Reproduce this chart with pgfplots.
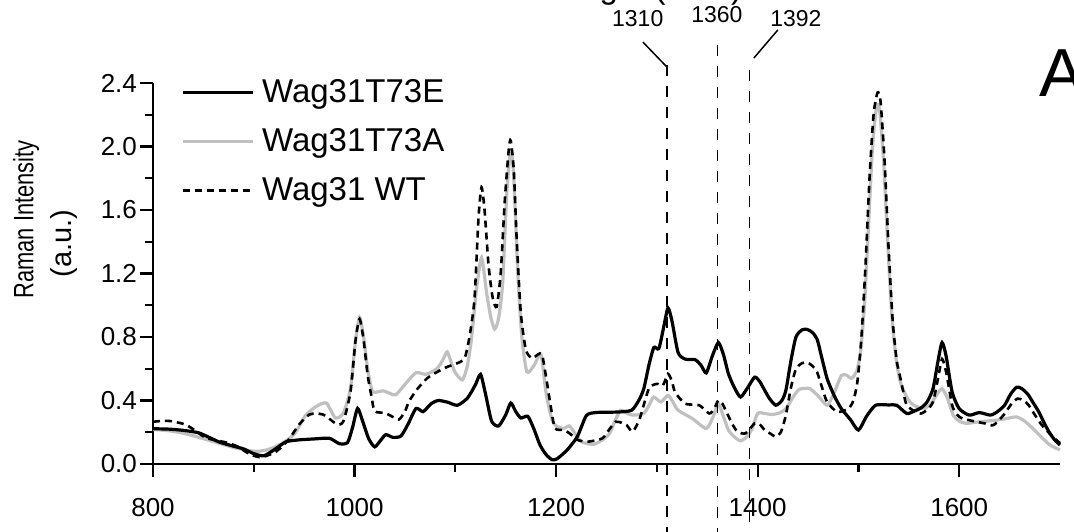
\documentclass[border=0pt]{standalone}
\usepackage{fontspec}
\setmainfont{Liberation Sans}
\usepackage{graphicx}
\usepackage{pgfplots}
\pgfplotsset{compat=1.18}
\definecolor{lgray}{RGB}{192,192,192}

% Raman spectra, values
\pgfplotstableread{
x y
800 0.222
815 0.220
830 0.212
845 0.197
855 0.170
866 0.138
880 0.112
890 0.095
900 0.065
910 0.052
921 0.093
932 0.140
945 0.152
960 0.158
975 0.162
985 0.128
993 0.135
998 0.230
1003 0.350
1008 0.270
1014 0.160
1020 0.108
1026 0.150
1031 0.185
1038 0.168
1046 0.176
1053 0.250
1061 0.350
1068 0.330
1076 0.380
1083 0.400
1092 0.390
1102 0.370
1112 0.415
1120 0.500
1125 0.565
1130 0.440
1136 0.270
1143 0.240
1150 0.310
1155 0.384
1160 0.330
1165 0.290
1172 0.300
1178 0.220
1184 0.120
1190 0.060
1196 0.027
1201 0.033
1211 0.089
1221 0.172
1230 0.305
1239 0.324
1250 0.326
1263 0.328
1275 0.339
1282 0.400
1287 0.474
1292 0.620
1297 0.734
1302 0.728
1307 0.870
1311 0.983
1315 0.900
1321 0.703
1328 0.661
1338 0.657
1344 0.620
1349 0.574
1355 0.680
1361 0.765
1366 0.690
1371 0.568
1377 0.480
1383 0.422
1390 0.480
1397 0.547
1402 0.520
1407 0.464
1412 0.410
1418 0.370
1424 0.400
1428 0.464
1433 0.650
1438 0.800
1444 0.845
1449 0.848
1454 0.830
1459 0.786
1464 0.660
1469 0.536
1476 0.430
1483 0.349
1492 0.280
1500 0.214
1508 0.300
1517 0.370
1530 0.372
1538 0.370
1548 0.318
1556 0.335
1562 0.353
1568 0.390
1574 0.474
1579 0.650
1583 0.765
1587 0.680
1593 0.453
1600 0.349
1610 0.308
1620 0.324
1631 0.308
1638 0.330
1645 0.370
1651 0.440
1657 0.484
1662 0.475
1668 0.440
1674 0.380
1679 0.328
1685 0.250
1690 0.193
1695 0.150
1700 0.120
}\tE

\pgfplotstableread{
x y
800 0.218
815 0.210
828 0.197
840 0.178
852 0.156
866 0.130
880 0.104
897 0.083
905 0.080
914 0.091
927 0.125
940 0.187
947 0.260
952 0.311
962 0.363
972 0.384
981 0.290
989 0.322
996 0.477
1001 0.780
1005 0.924
1009 0.800
1013 0.600
1018 0.457
1028 0.461
1035 0.445
1041 0.436
1051 0.509
1061 0.575
1071 0.565
1082 0.602
1088 0.660
1092 0.706
1097 0.620
1100 0.575
1107 0.530
1112 0.620
1116 0.789
1121 1.100
1126 1.300
1131 1.080
1135 0.930
1139 0.850
1143 0.920
1147 1.142
1151 1.700
1155 1.978
1158 1.800
1162 1.200
1166 0.800
1171 0.581
1178 0.620
1185 0.687
1190 0.450
1195 0.300
1199 0.245
1207 0.224
1213 0.240
1218 0.200
1225 0.141
1238 0.125
1252 0.183
1259 0.280
1264 0.339
1270 0.320
1276 0.308
1287 0.318
1293 0.380
1297 0.422
1304 0.391
1311 0.432
1316 0.390
1321 0.339
1335 0.287
1349 0.224
1356 0.300
1361 0.380
1366 0.300
1371 0.214
1377 0.170
1383 0.146
1389 0.170
1394 0.214
1400 0.318
1407 0.318
1414 0.312
1421 0.320
1428 0.349
1435 0.420
1441 0.470
1447 0.476
1452 0.474
1460 0.430
1469 0.370
1476 0.450
1483 0.557
1488 0.560
1493 0.540
1498 0.580
1502 0.700
1506 1.000
1510 1.500
1514 2.000
1518 2.250
1521 2.230
1525 1.900
1529 1.400
1533 0.950
1537 0.680
1541 0.530
1545 0.460
1550 0.400
1555 0.370
1565 0.349
1572 0.380
1578 0.440
1583 0.474
1588 0.420
1594 0.308
1600 0.270
1607 0.256
1620 0.266
1638 0.277
1650 0.290
1657 0.297
1665 0.270
1673 0.224
1680 0.180
1690 0.120
1700 0.089
}\tA

\pgfplotstableread{
x y
800 0.266
810 0.272
818 0.270
832 0.249
842 0.210
852 0.166
862 0.150
873 0.135
884 0.110
893 0.073
900 0.052
907 0.042
914 0.055
921 0.073
928 0.110
935 0.156
945 0.249
955 0.311
962 0.318
969 0.311
976 0.280
983 0.249
989 0.270
996 0.457
1001 0.780
1005 0.913
1009 0.780
1013 0.560
1017 0.420
1020 0.332
1030 0.322
1037 0.300
1044 0.280
1050 0.330
1054 0.394
1062 0.470
1072 0.540
1082 0.580
1092 0.612
1100 0.630
1109 0.664
1114 0.800
1119 1.038
1123 1.550
1126 1.743
1129 1.600
1133 1.250
1137 1.050
1141 0.991
1145 1.200
1149 1.650
1153 1.980
1155 2.037
1158 1.850
1161 1.400
1165 0.950
1170 0.720
1176 0.666
1182 0.690
1186 0.690
1190 0.550
1195 0.350
1199 0.224
1208 0.214
1214 0.190
1221 0.152
1232 0.141
1246 0.162
1253 0.220
1259 0.266
1265 0.260
1270 0.245
1276 0.204
1283 0.287
1292 0.474
1300 0.505
1306 0.495
1311 0.568
1315 0.520
1318 0.453
1328 0.380
1342 0.370
1352 0.318
1357 0.350
1361 0.401
1365 0.380
1369 0.328
1375 0.250
1380 0.204
1388 0.193
1397 0.256
1402 0.250
1407 0.214
1413 0.190
1418 0.172
1423 0.200
1428 0.308
1433 0.480
1438 0.599
1444 0.635
1449 0.640
1454 0.620
1459 0.578
1464 0.480
1469 0.390
1479 0.328
1490 0.349
1495 0.400
1499 0.520
1503 0.800
1507 1.250
1511 1.800
1515 2.200
1519 2.340
1522 2.280
1526 1.900
1530 1.350
1534 0.900
1538 0.650
1541 0.560
1545 0.440
1548 0.370
1556 0.330
1562 0.318
1568 0.340
1574 0.391
1579 0.540
1583 0.661
1587 0.580
1593 0.370
1598 0.310
1603 0.287
1617 0.266
1626 0.255
1634 0.245
1644 0.308
1652 0.380
1658 0.412
1664 0.400
1669 0.370
1676 0.300
1682 0.245
1690 0.190
1700 0.131
}\tWT

\begin{document}
\begin{tikzpicture}
\begin{axis}[
  name=ax,
  width=453.5pt, height=190.5pt, scale only axis,
  xmin=800, xmax=1700, ymin=0, ymax=2.4,
  axis x line=bottom, axis y line=left,
  axis line style={-, line width=1.2pt},
  xtick={800,1000,1200,1400,1600}, minor x tick num=1,
  ytick={0,0.4,0.8,1.2,1.6,2.0,2.4}, minor y tick num=1,
  tick align=outside, major tick length=6.5pt, minor tick length=4pt,
  tick style={black, line width=1.1pt},
  tick label style={font=\fontsize{13}{13}\selectfont, /pgf/number format/assume math mode=true},
  xticklabel style={/pgf/number format/1000 sep={}, yshift=-7pt},
  yticklabel style={/pgf/number format/fixed, /pgf/number format/fixed zerofill, /pgf/number format/precision=1, xshift=2pt},
  clip=false,
  legend style={at={(axis cs:827.3,2.425)}, anchor=north west, draw=none, fill=none,
    font=\fontsize{16.5}{16.5}\selectfont, row sep=11.5pt, column sep=4pt,
    inner sep=0pt, nodes={inner sep=0pt}},
  legend cell align=left,
  legend image code/.code={\draw[#1] (0pt,0pt) -- (35pt,0pt);},
]
\addlegendimage{black, line width=1.6pt}
\addlegendentry{Wag31T73E}
\addlegendimage{lgray, line width=1.6pt}
\addlegendentry{Wag31T73A}
\addlegendimage{black, line width=1.3pt, dash pattern=on 3.5pt off 2.5pt}
\addlegendentry{Wag31 WT}

\addplot[lgray, line width=1.6pt, smooth, tension=0.4, forget plot] table {\tA};
\addplot[black, line width=1.3pt, dash pattern=on 3.5pt off 2.5pt, smooth, tension=0.4, forget plot] table {\tWT};
\addplot[black, line width=1.6pt, smooth, tension=0.4, forget plot] table {\tE};

% marker lines
\draw[black, line width=0.75pt, dash pattern=on 5.5pt off 5pt] (axis cs:1310,2.513) -- (axis cs:1310,-0.45);
\draw[black, line width=0.75pt, dash pattern=on 5.5pt off 5pt] (axis cs:1360,2.64) -- (axis cs:1360,-0.45);
\draw[black, line width=0.75pt, dash pattern=on 5.5pt off 5pt] (axis cs:1392,2.48) -- (axis cs:1392,-0.45);
\draw[black, line width=0.75pt] (axis cs:1286.1,2.658) -- (axis cs:1309.9,2.501);
\draw[black, line width=0.75pt] (axis cs:1420,2.734) -- (axis cs:1396.2,2.557);
\node[font=\fontsize{11.5}{11.5}\selectfont, inner sep=0pt] at (axis cs:1281,2.803) {1310};
\node[font=\fontsize{11.5}{11.5}\selectfont, inner sep=0pt] at (axis cs:1359.5,2.828) {1360};
\node[font=\fontsize{11.5}{11.5}\selectfont, inner sep=0pt] at (axis cs:1437.9,2.803) {1392};
\node[font=\fontsize{16.5}{16.5}\selectfont, anchor=base west, inner sep=0pt] at (axis cs:1116.5,2.932) {Wavelength (cm\textsuperscript{-1})};
\node[font=\fontsize{34}{34}\selectfont, anchor=base west, inner sep=0pt] at (axis cs:1679,2.312) {A};

% y label
\node[rotate=90, font=\fontsize{14}{14}\selectfont, inner sep=0pt] at (axis cs:674,1.54) {\scalebox{0.78}[1]{Raman Intensity}};
\node[rotate=90, font=\fontsize{14.5}{14.5}\selectfont, inner sep=0pt] at (axis cs:712,1.39) {(a.u.)};
\end{axis}
\pgfresetboundingbox
\path[use as bounding box] ([shift={(-76.5pt,-33.5pt)}]ax.south west) rectangle ([shift={(460.5pt,232pt)}]ax.south west);
\end{tikzpicture}
\end{document}
